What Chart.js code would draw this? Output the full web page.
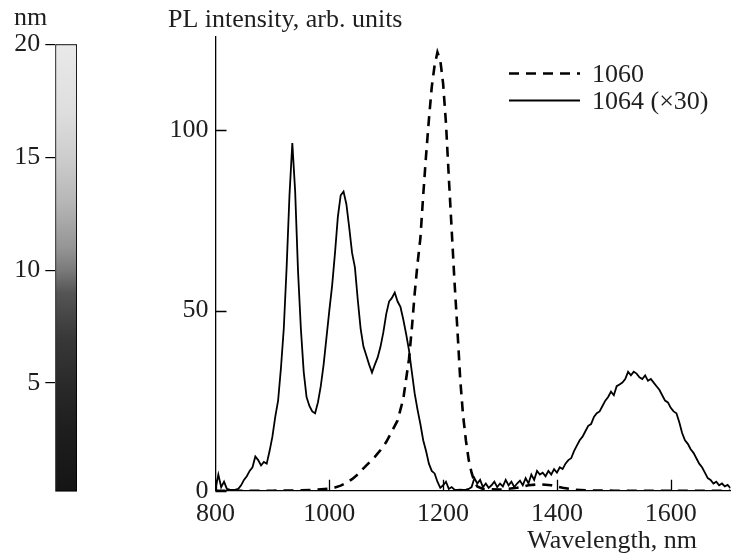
<!DOCTYPE html>
<html>
<head>
<meta charset="utf-8">
<script src="https://cdn.jsdelivr.net/npm/chart.js@4/dist/chart.umd.min.js"></script>
<style>
  body { margin: 0; background: #fff; }
  #wrap { position: relative; width: 731px; height: 556px; }
  canvas { position: absolute; left: 0; top: 0; }
</style>
</head>
<body>
<div id="wrap">
  <canvas id="pl" width="731" height="556"></canvas>
  <canvas id="cb" width="100" height="556"></canvas>
</div>
<script>
// PL spectra, excitation 1060 (dashed) and 1064 (x30, solid)

const wl1064 = [
  800, 805, 810, 815, 820, 825, 830, 835, 840, 845, 850, 855, 860, 865, 870, 875, 880, 885, 890, 895,
  900, 905, 910, 915, 920, 925, 930, 935, 940, 945, 950, 955, 960, 965, 970, 975, 980, 985, 990, 995,
  1000, 1005, 1010, 1015, 1020, 1025, 1030, 1035, 1040, 1045, 1050, 1055, 1060, 1065, 1070, 1075, 1080, 1085, 1090, 1095,
  1100, 1105, 1110, 1115, 1120, 1125, 1130, 1135, 1140, 1145, 1150, 1155, 1160, 1165, 1170, 1175, 1180, 1185, 1190, 1195,
  1200, 1205, 1210, 1215, 1220, 1225, 1230, 1235, 1240, 1245, 1250, 1255, 1260, 1265, 1270, 1275, 1280, 1285, 1290, 1295,
  1300, 1305, 1310, 1315, 1320, 1325, 1330, 1335, 1340, 1345, 1350, 1355, 1360, 1365, 1370, 1375, 1380, 1385, 1390, 1395,
  1400, 1405, 1410, 1415, 1420, 1425, 1430, 1435, 1440, 1445, 1450, 1455, 1460, 1465, 1470, 1475, 1480, 1485, 1490, 1495,
  1500, 1505, 1510, 1515, 1520, 1525, 1530, 1535, 1540, 1545, 1550, 1555, 1560, 1565, 1570, 1575, 1580, 1585, 1590, 1595,
  1600, 1605, 1610, 1615, 1620, 1625, 1630, 1635, 1640, 1645, 1650, 1655, 1660, 1665, 1670, 1675, 1680, 1685, 1690, 1695,
  1700, 1705
];
const pl1064 = [
  0.5, 4.5, 1.0, 2.5, 0.5, 0.3, 0.2, 0.3, 0.5, 1.5, 3.0, 4.0, 5.5, 6.5, 9.5, 8.5, 7.0, 8.0, 7.5, 11.0,
  15.0, 20.5, 25.0, 34.0, 45.0, 62.0, 82.0, 96.5, 83.0, 61.0, 45.0, 33.0, 26.0, 23.5, 22.0, 21.5, 24.5, 29.0, 35.0, 42.5,
  50.0, 57.0, 66.0, 76.0, 82.0, 83.0, 79.5, 73.0, 66.0, 62.0, 53.0, 45.0, 40.0, 37.5, 35.0, 32.8, 35.0, 37.0, 40.0, 44.0,
  49.0, 52.5, 53.5, 55.0, 52.5, 51.0, 47.5, 43.5, 39.0, 33.0, 27.0, 22.5, 18.5, 14.0, 11.0, 7.5, 5.5, 4.8, 2.5, 0.8,
  1.5, 2.5, 0.5, 1.0, 0.3, 0.2, 0.3, 0.2, 0.3, 0.5, 1.0, 3.5, 2.0, 3.0, 1.0, 2.0, 0.8, 1.5, 2.5, 1.0,
  2.0, 1.2, 3.0, 1.5, 2.5, 1.0, 2.0, 2.8, 1.5, 3.5, 2.0, 4.5, 3.0, 5.5, 4.5, 5.0, 4.0, 5.5, 4.5, 6.0,
  5.0, 6.5, 6.0, 7.5, 8.5, 9.0, 11.0, 12.5, 14.0, 15.0, 16.5, 18.0, 18.5, 20.5, 21.5, 22.0, 23.5, 25.0, 26.0, 27.5,
  26.5, 29.0, 29.5, 30.0, 31.0, 33.0, 32.0, 33.0, 32.5, 31.5, 31.0, 32.0, 30.5, 31.0, 30.0, 29.0, 28.0, 26.5, 25.0, 24.5,
  23.0, 22.0, 21.5, 19.0, 16.0, 14.0, 13.0, 11.5, 10.5, 9.0, 7.5, 6.5, 5.0, 3.5, 3.0, 2.0, 2.5, 1.5, 2.0, 1.2,
  1.6, 0.7
];

const wl1060 = [
  800, 850, 900, 950, 980, 1000, 1010, 1020, 1030, 1040, 1050, 1060, 1070, 1080, 1090, 1100, 1110, 1120, 1125, 1130,
  1135, 1140, 1145, 1150, 1155, 1160, 1165, 1170, 1175, 1180, 1185, 1190, 1195, 1200, 1205, 1210, 1215, 1220, 1225, 1230,
  1235, 1240, 1245, 1250, 1255, 1260, 1270, 1300, 1330, 1350, 1370, 1390, 1410, 1430, 1450, 1500, 1600, 1705
];
const pl1060 = [
  0, 0, 0, 0.1, 0.3, 0.6, 0.9, 1.4, 2.2, 3.2, 4.5, 6.2, 7.8, 9.4, 11.3, 13.5, 16.5, 19.5, 22.5, 25.5,
  31, 36.5, 45, 54.7, 63, 70, 82, 93, 103, 112, 118, 121.7, 119.5, 113, 102, 87, 72.5, 58, 45, 31,
  21, 14, 8.5, 5, 2.5, 1.2, 0.5, 0.3, 0.8, 1.5, 1.8, 1.5, 0.8, 0.3, 0.1, 0, 0, 0
];

const seriesLabels = ['1060', '1064 (\u00d730)'];
const xTicks = [800, 1000, 1200, 1400, 1600];
const yTicks = [0, 50, 100];

// colour bar (height scale, nm)
const cbTicks = [5, 10, 15, 20];
const cbRange = [0.2, 20];
const cbStops = [
  [0, '#141414'], [3, '#1e1e1e'], [5, '#2a2a2a'], [7, '#383838'], [9, '#555555'],
  [10, '#7a7a7a'], [11, '#959595'], [13, '#b6b6b6'], [15, '#cdcdcd'], [17, '#dedede'], [20, '#e9e9e9']
];

const FONT = "'Liberation Serif', 'Times New Roman', serif";
const TEXT = '#1e1e1e';

function toPoints(xs, ys) {
  return xs.map((x, i) => ({ x: x, y: ys[i] }));
}

const decorPlugin = {
  id: 'decor',
  afterDraw(chart) {
    const ctx = chart.ctx;
    const area = chart.chartArea;
    const xs = chart.scales.x;
    const ys = chart.scales.y;

    ctx.save();
    // inward tick marks
    ctx.strokeStyle = '#000';
    ctx.lineWidth = 1.3;
    ctx.beginPath();
    xs.ticks.forEach(t => {
      const px = Math.round(xs.getPixelForValue(t.value)) + 0.5;
      ctx.moveTo(px, area.bottom);
      ctx.lineTo(px, area.bottom - 11);
    });
    ys.ticks.forEach(t => {
      const py = Math.round(ys.getPixelForValue(t.value)) + 0.5;
      ctx.moveTo(area.left, py);
      ctx.lineTo(area.left + 11, py);
    });
    ctx.stroke();

    // axis titles
    ctx.fillStyle = TEXT;
    ctx.font = '26px ' + FONT;
    ctx.textBaseline = 'alphabetic';
    ctx.textAlign = 'left';
    ctx.fillText('PL intensity, arb. units', 168, 27);
    ctx.textAlign = 'right';
    ctx.fillText('Wavelength, nm', 697, 548);

    // legend
    const rows = [73.5, 100.5];
    chart.data.datasets.forEach((ds, i) => {
      const y = rows[i];
      ctx.strokeStyle = ds.borderColor;
      ctx.lineWidth = ds.borderWidth;
      ctx.setLineDash(ds.borderDash || []);
      ctx.beginPath();
      ctx.moveTo(509, y);
      ctx.lineTo(580, y);
      ctx.stroke();
      ctx.setLineDash([]);
      ctx.textAlign = 'left';
      ctx.fillText(ds.label, 592, y + 8.5);
    });
    ctx.restore();
  }
};

const plChart = new Chart(document.getElementById('pl'), {
  type: 'line',
  data: {
    datasets: [
      {
        label: seriesLabels[0],
        data: toPoints(wl1060, pl1060),
        borderColor: '#000',
        borderWidth: 2.6,
        borderDash: [10, 7],
        pointRadius: 0,
        tension: 0,
        fill: false
      },
      {
        label: seriesLabels[1],
        data: toPoints(wl1064, pl1064),
        borderColor: '#000',
        borderWidth: 1.8,
        pointRadius: 0,
        tension: 0,
        fill: false
      }
    ]
  },
  options: {
    responsive: false,
    animation: false,
    devicePixelRatio: 1,
    layout: { padding: { left: 0, right: 0.5, top: 36.7, bottom: 0 } },
    plugins: { legend: { display: false }, tooltip: { enabled: false } },
    scales: {
      x: {
        type: 'linear',
        min: 800,
        max: 1705,
        afterBuildTicks: s => { s.ticks = xTicks.map(v => ({ value: v })); },
        afterFit: s => { s.height = 65.3; },
        grid: { display: false, drawTicks: false },
        border: { display: true, color: '#000', width: 1.3 },
        ticks: {
          color: TEXT, padding: 8, font: { family: FONT, size: 26 }, maxRotation: 0,
          callback: v => String(v)
        }
      },
      y: {
        min: 0,
        max: 126,
        afterBuildTicks: s => { s.ticks = yTicks.map(v => ({ value: v })); },
        afterFit: s => { s.width = 215.5; },
        grid: { display: false, drawTicks: false },
        border: { display: true, color: '#000', width: 1.3 },
        ticks: { color: TEXT, padding: 7, font: { family: FONT, size: 26 }, callback: v => String(v) }
      }
    }
  },
  plugins: [decorPlugin]
});

const cbTitle = {
  id: 'cbTitle',
  afterDraw(chart) {
    const ctx = chart.ctx;
    ctx.save();
    ctx.fillStyle = TEXT;
    ctx.font = '26px ' + FONT;
    ctx.textAlign = 'left';
    ctx.fillText('nm', 14, 25);
    ctx.restore();
  }
};

const cbChart = new Chart(document.getElementById('cb'), {
  type: 'bar',
  data: {
    labels: [''],
    datasets: [{
      data: [cbRange],
      backgroundColor: ctx => {
        const chart = ctx.chart;
        if (!chart.chartArea) return '#888';
        const ys = chart.scales.y;
        const g = chart.ctx.createLinearGradient(0, ys.getPixelForValue(0), 0, ys.getPixelForValue(20));
        cbStops.forEach(([v, c]) => g.addColorStop(v / 20, c));
        return g;
      },
      borderColor: '#000',
      borderWidth: 1.2,
      borderSkipped: false,
      barPercentage: 1,
      categoryPercentage: 1
    }]
  },
  options: {
    responsive: false,
    animation: false,
    devicePixelRatio: 1,
    layout: { padding: { left: 0, right: 23, top: 44.3, bottom: 60 } },
    plugins: { legend: { display: false }, tooltip: { enabled: false } },
    scales: {
      x: { display: false },
      y: {
        min: 0,
        max: 20,
        afterBuildTicks: s => { s.ticks = cbTicks.map(v => ({ value: v })); },
        afterFit: s => { s.width = 55.3; },
        grid: { display: true, drawOnChartArea: false, drawTicks: true, tickLength: 10, color: '#000', lineWidth: 1.2 },
        border: { display: false },
        ticks: { color: TEXT, padding: 5, font: { family: FONT, size: 26 } }
      }
    }
  },
  plugins: [cbTitle]
});
</script>
</body>
</html>
